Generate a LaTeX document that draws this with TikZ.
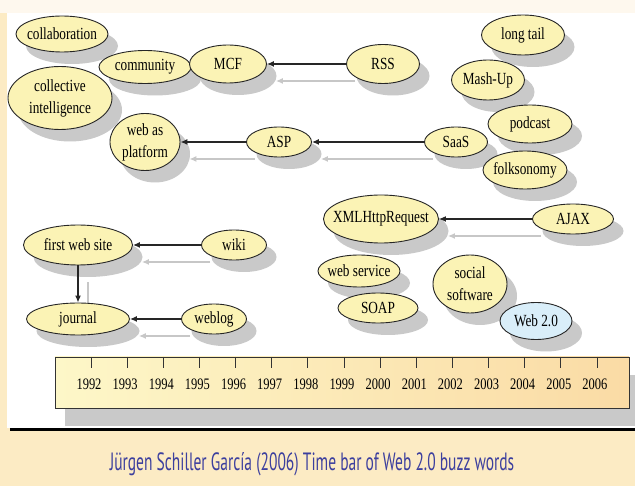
\documentclass[tikz,border=0pt]{standalone}
\usepackage{fontspec}
\setmainfont[FakeStretch=0.78]{Liberation Serif}
\newfontfamily\capfont[FakeStretch=0.62]{PT Sans}
\usetikzlibrary{shapes.geometric,arrows.meta,calc}
\pgfdeclarelayer{bgA}\pgfdeclarelayer{bgB}\pgfdeclarelayer{bgZ}
\pgfsetlayers{bgZ,bgA,bgB,main}
\definecolor{bubyel}{HTML}{FBF3B5}
\definecolor{bubblue}{HTML}{D9EEF9}
\definecolor{shad}{HTML}{C9C9C9}
\definecolor{cream}{HTML}{FCEBC4}
\definecolor{topcream}{HTML}{FEF8EE}
\definecolor{capblue}{HTML}{3C3F9E}
\definecolor{barL}{HTML}{FDF7C8}
\definecolor{barR}{HTML}{FADBA5}
\tikzset{
  bubble/.style={ellipse, draw=black!85, line width=0.9pt, inner sep=0pt},
  btext/.style={align=center, font=\fontsize{17}{22}\selectfont, inner sep=0pt},
  arr/.style={draw=black!85, line width=1.2pt, -{Latex[length=7pt,width=6pt]}},
  garr/.style={draw=black!22, line width=1.2pt, -{Latex[length=7pt,width=6pt]}},
  year/.style={font=\fontsize{16}{17}\selectfont, inner sep=0pt},
}
\newcommand\bub[7]{%
  \begin{pgfonlayer}{bgB}
    \fill[shad] (#3+10,#4+12) ellipse [x radius={#5pt/2}, y radius={#6pt/2}];
  \end{pgfonlayer}
  \node[bubble, fill=#1, minimum width=#5, minimum height=#6] (#2) at (#3,#4) {};
  \node[btext] (#2-t) at (#2.center) {#7};
}
\begin{document}
\begin{tikzpicture}[x=1pt,y=-1pt]
\useasboundingbox (0,0) rectangle (635,486);
\begin{pgfonlayer}{bgZ}
  \fill[cream] (0,0) rectangle (635,486);
  \fill[topcream] (0,0) rectangle (635,13);
  \fill[white] (7,13) rectangle (635,428);
\end{pgfonlayer}

\bub{bubyel}{collab}{62}{34}{92}{36}{collaboration}
\bub{bubyel}{community}{145}{67}{92}{33}{community}
\bub{bubyel}{MCF}{228}{64}{77}{38}{MCF}
\bub{bubyel}{RSS}{383}{64}{73}{39}{RSS}
\bub{bubyel}{ci}{60}{98}{104}{63}{collective\\intelligence}
\bub{bubyel}{wap}{145}{142}{70}{57}{web as\\platform}
\bub{bubyel}{ASP}{279}{142}{65}{30}{ASP}
\bub{bubyel}{SaaS}{456}{142}{63}{30}{SaaS}
\bub{bubyel}{longtail}{523}{35}{83}{40}{long tail}
\bub{bubyel}{mashup}{488}{80}{73}{40}{Mash-Up}
\bub{bubyel}{podcast}{530}{124}{84}{38}{podcast}
\bub{bubyel}{folk}{525}{170}{84}{38}{folksonomy}
\bub{bubyel}{xhr}{381}{219}{115}{48}{XMLHttpRequest}
\bub{bubyel}{ajax}{573}{219}{81}{30}{AJAX}
\bub{bubyel}{websvc}{359}{271}{82}{32}{web service}
\bub{bubyel}{soap}{378}{308}{80}{30}{SOAP}
\bub{bubyel}{social}{470}{284}{74}{58}{social\\software}
\bub{bubblue}{web20}{536}{321}{72}{37}{Web 2.0}
\bub{bubyel}{fws}{78}{245}{109}{40}{first web site}
\bub{bubyel}{wiki}{234}{245}{65}{30}{wiki}
\bub{bubyel}{journal}{78}{319}{103}{32}{journal}
\bub{bubyel}{weblog}{214}{319}{65}{30}{weblog}

% black arrows
\draw[arr] (RSS) -- (MCF);
\draw[arr] (SaaS) -- (ASP);
\draw[arr] (ASP) -- (wap);
\draw[arr] (ajax) -- (xhr);
\draw[arr] (wiki) -- (fws);
\draw[arr] (weblog) -- (journal);
\draw[arr] (fws) -- (journal);

% shadow arrows
\begin{pgfonlayer}{bgA}
\draw[garr] ($(RSS.west)+(9,17)$) -- ($(MCF.east)+(9,17)$);
\draw[garr] ($(SaaS.west)+(9,17)$) -- ($(ASP.east)+(9,17)$);
\draw[garr] ($(ASP.west)+(9,17)$) -- ($(wap.east)+(9,17)$);
\draw[garr] ($(ajax.west)+(9,17)$) -- ($(xhr.east)+(9,17)$);
\draw[garr] ($(wiki.west)+(9,17)$) -- ($(fws.east)+(9,17)$);
\draw[garr] ($(weblog.west)+(9,17)$) -- ($(journal.east)+(9,17)$);
\draw[garr] ($(fws.south)+(10,17)$) -- ($(journal.north)+(10,17)$);
\end{pgfonlayer}

% time bar
\begin{pgfonlayer}{bgB}
\fill[shad] (65,375) rectangle (640,426);
\end{pgfonlayer}
\node[draw=black!80, line width=0.9pt, left color=barL, right color=barR,
      minimum width=574, minimum height=51, inner sep=0pt] (bar) at (342,382.5) {};
\foreach \i [evaluate=\i as \yr using int(1992+\i)] in {0,...,14}{
  \draw[black!80, line width=0.9pt] (91+36.14*\i,357) -- ++(0,11);
  \node[year] (y\yr) at (89+36.14*\i,384) {\yr};
}

% footer
\fill[black] (10,428) rectangle (635,431);
\node[font=\capfont\fontsize{25}{27}\selectfont, text=capblue, inner sep=0pt] (cap) at (312,464)
  {Jürgen Schiller García (2006) Time bar of Web 2.0 buzz words};
\end{tikzpicture}
\end{document}
